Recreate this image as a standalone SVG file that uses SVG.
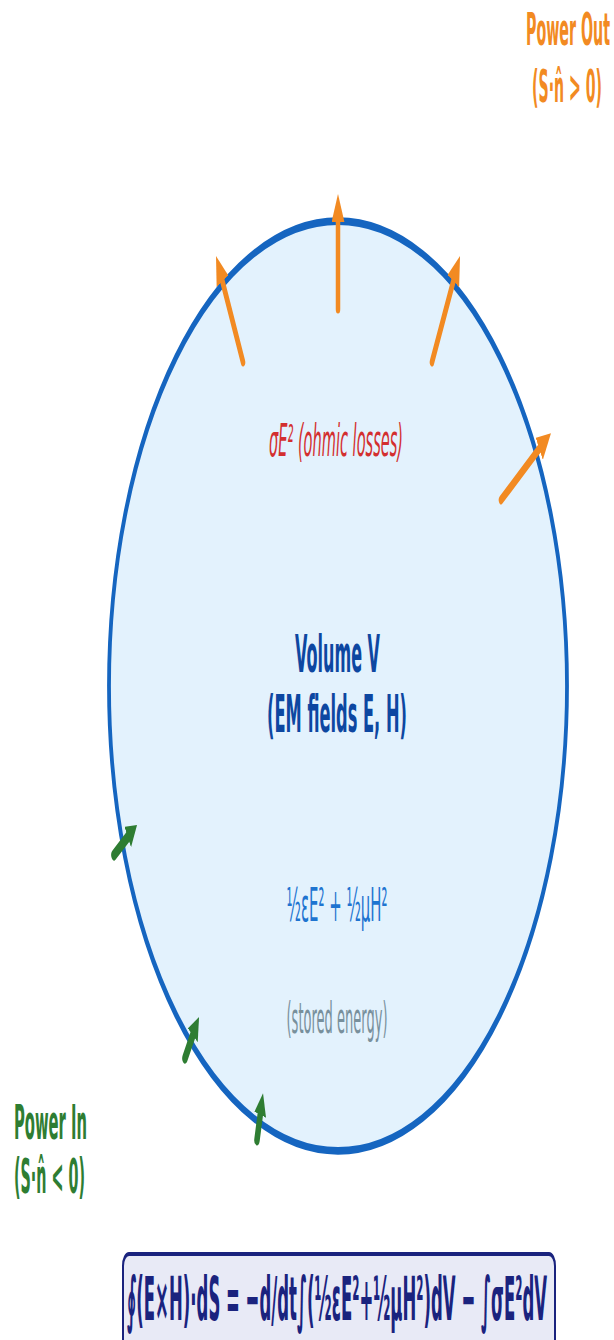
<svg xmlns="http://www.w3.org/2000/svg" width="614" height="1340" viewBox="0 0 614 1340">
  <style>
    text { font-family: "DejaVu Sans", "Liberation Sans", sans-serif; text-anchor: middle; }
    .bold { font-weight: bold; }
    .out { fill: #f28a22; }
    .in { fill: #2e7d32; }
    .arrow-out { stroke: #f28a22; stroke-width: 4.5; stroke-linecap: round; fill: none; }
    .arrow-in { stroke: #2e7d32; stroke-width: 5.5; stroke-linecap: round; fill: none; }
  </style>
  <defs>
    <marker id="headOut" markerUnits="userSpaceOnUse" viewBox="0 -6.5 14 13" refX="4" refY="0" markerWidth="14" markerHeight="13" orient="auto">
      <path d="M0,-6.5 L14,0 L0,6.5 z" fill="#f28a22"/>
    </marker>
    <marker id="headIn" markerUnits="userSpaceOnUse" viewBox="0 -6 11 12" refX="3" refY="0" markerWidth="11" markerHeight="12" orient="auto">
      <path d="M0,-6 L11,0 L0,6 z" fill="#2e7d32"/>
    </marker>
  </defs>

  <g id="volume">
    <circle cx="338" cy="0" r="229" transform="translate(0,686) scale(1,2.03)" fill="#e3f2fd" stroke="#1565c0" stroke-width="3.8"/>
    <text class="bold" font-size="16" fill="#0d47a1" textLength="85" lengthAdjust="spacingAndGlyphs" transform="matrix(1,0,0,3.25,337.5,672)">Volume V</text>
    <text class="bold" font-size="16" fill="#0d47a1" textLength="140" lengthAdjust="spacingAndGlyphs" transform="matrix(1,0,0,3.25,337,732)">(EM fields E, H)</text>
  </g>

  <g id="ohmic-losses">
    <text font-size="14.6" font-style="italic" fill="#d32f2f" textLength="134" lengthAdjust="spacingAndGlyphs" transform="matrix(1,0,0,3.0,336,456)">σE² (ohmic losses)</text>
  </g>

  <g id="stored-energy">
    <text font-size="14" fill="#1e74d0" textLength="101" lengthAdjust="spacingAndGlyphs" transform="matrix(1,0,0,3.3,337,921)">½εE² + ½μH²</text>
    <text font-size="13" fill="#78909c" textLength="101" lengthAdjust="spacingAndGlyphs" transform="matrix(1,0,0,3.25,337,1033)">(stored energy)</text>
  </g>

  <g id="connectors" transform="translate(0,686) scale(1,2.03)">
    <line class="arrow-out" x1="338" y1="-185.7" x2="338" y2="-232.4" marker-end="url(#headOut)"/>
    <line class="arrow-out" x1="243" y1="-159.6" x2="220.6" y2="-202.9" marker-end="url(#headOut)"/>
    <line class="arrow-out" x1="432" y1="-159.6" x2="455.3" y2="-203" marker-end="url(#headOut)"/>
    <line class="arrow-out" x1="501" y1="-91.6" x2="542.6" y2="-119" marker-end="url(#headOut)"/>
    <line class="arrow-in" x1="114" y1="83.3" x2="130.3" y2="72.8" marker-end="url(#headIn)"/>
    <line class="arrow-in" x1="185" y1="183.3" x2="194.5" y2="169.6" marker-end="url(#headIn)"/>
    <line class="arrow-in" x1="257" y1="223.6" x2="261" y2="208.3" marker-end="url(#headIn)"/>
  </g>

  <g id="power-out">
    <text class="bold out" font-size="14" textLength="84" lengthAdjust="spacingAndGlyphs" transform="matrix(1,0,0,3.15,568,45)">Power Out</text>
    <text class="bold out" font-size="14" textLength="70" lengthAdjust="spacingAndGlyphs" transform="matrix(1,0,0,3.15,567,102)">(S·n̂ &gt; 0)</text>
  </g>

  <g id="power-in">
    <text class="bold in" font-size="14.8" textLength="73" lengthAdjust="spacingAndGlyphs" transform="matrix(1,0,0,3.2,50.5,1139)">Power In</text>
    <text class="bold in" font-size="14.8" textLength="71" lengthAdjust="spacingAndGlyphs" transform="matrix(1,0,0,3.2,49.5,1193)">(S·n̂ &lt; 0)</text>
  </g>

  <g id="poynting-theorem">
    <rect x="123" y="1" width="432" height="60" rx="6" ry="6" transform="translate(0,1252) scale(1,2)" fill="#e8eaf6" stroke="#1a237e" stroke-width="2"/>
    <text class="bold" font-size="17" fill="#1a237e" textLength="420" lengthAdjust="spacingAndGlyphs" transform="matrix(1,0,0,3.6,337,1320)">∮(E×H)·dS = −d/dt∫(½εE²+½μH²)dV − ∫σE²dV</text>
  </g>
</svg>
